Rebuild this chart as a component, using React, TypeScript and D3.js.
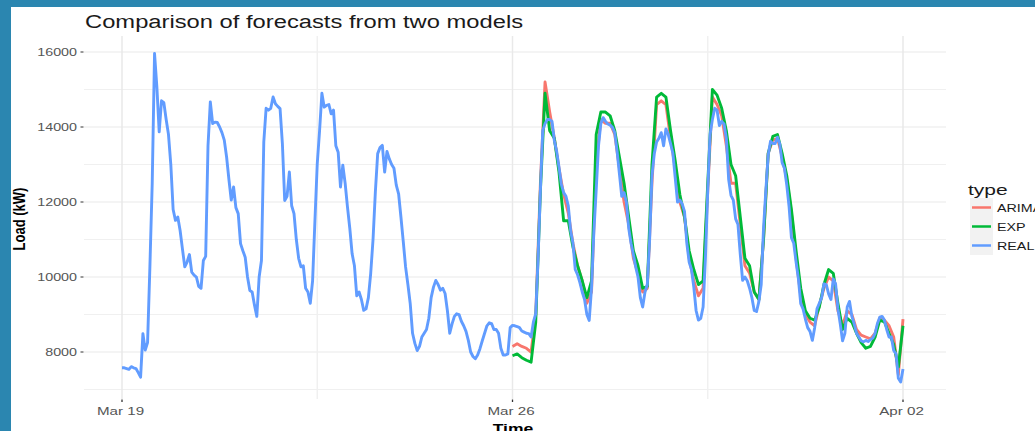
import React from "react";
import * as d3 from "d3";

// hourly load from Mar 19 00:00, forecasts every 2 hours from Mar 26 00:00
const REAL_START = Date.UTC(2018, 2, 19);
const FC_START = Date.UTC(2018, 2, 26);

const REAL = [
  7580, 7580, 7560, 7540, 7610, 7580, 7560, 7450, 7330, 8490, 8050, 8250, 10270, 12500, 15960, 15070, 13870, 14700, 14650, 14200, 13800, 13000, 11800, 11510,
  11600, 11240, 10750, 10270, 10400, 10600, 10130, 10050, 10000, 9750, 9700, 10440, 10550, 13500, 14670, 14090, 14130, 14120, 14000, 13850, 13650, 13200, 12600, 12050,
  12400, 11850, 11690, 10890, 10700, 10530, 10000, 9640, 9600, 9250, 8950, 10000, 10440, 13600, 14500, 14450, 14500, 14800, 14620, 14550, 14490, 13560, 12040, 12150,
  12800, 11900, 11690, 11000, 10500, 10270, 10300, 9700, 9600, 9300, 9900, 11500, 13020, 13900, 14900, 14530, 14580, 14600, 14350, 14450, 13500, 13330, 12400, 12980,
  12500, 11870, 11300, 10620, 10300, 9500, 9600, 9400, 9110, 9150, 9450, 10100, 11000, 12270, 13290, 13450, 13510, 12800, 13350, 13150, 13000, 12900, 12450, 12220,
  11600, 10950, 10270, 9800, 9290, 8500, 8230, 8040, 8150, 8400, 8500, 8600, 8900, 9450, 9730, 9910, 9800, 9650, 9700, 9560, 9100, 8500, 8750, 8950,
  9020, 9000, 8820, 8700, 8550, 8310, 8000, 7880, 7820, 7920, 8090, 8300, 8500, 8700, 8780, 8760, 8600, 8600, 8500, 8100, 7920, 7920, 7950, 8650,
  8710, 8700, 8680, 8650, 8560, 8530, 8500, 8490, 8400, 8800, 9020, 10500, 12300, 13900, 14090, 14200, 14200, 14150, 13640, 13350, 12930, 12480, 12250, 12150,
  11900, 11240, 10900, 10200, 10060, 9850, 9600, 9400, 9000, 8840, 9700, 11200, 12310, 13500, 14090, 14250, 14150, 14080, 14050, 13990, 13850, 13350, 12750, 12150,
  12250, 12000, 11300, 10900, 10600, 10270, 10000, 9450, 9200, 9600, 9800, 11000, 12700, 13290, 13600, 13700, 13850, 13500, 13950, 13800, 13560, 13300, 12650, 12000,
  12050, 11950, 11750, 10900, 10400, 10200, 9730, 9100, 8850, 8900, 9200, 10500, 12310, 13800, 14200, 14500, 14450, 14040, 14150, 14080, 13700, 12600, 12180, 12050,
  11550, 11400, 10600, 9910, 10000, 9900, 9700, 9450, 9110, 9080, 9350, 9800, 11300, 12310, 13250, 13620, 13560, 13560, 13730, 13550, 13050, 12900, 12450, 11870,
  11050, 10900, 10400, 9950, 9290, 9150, 8880, 8650, 8550, 8310, 8650, 9150, 9300, 9450, 9820, 9800, 9550, 9400, 9950, 9820, 9150, 8750, 8300, 8500,
  9200, 9350, 8950, 8750, 8500, 8400, 8300, 8270, 8310, 8280, 8330, 8370, 8500, 8760, 8930, 8950, 8850, 8600, 8400, 8400, 8040, 7950, 7300, 7200, 7550,
];

const ARIMA = [
  8150, 8220, 8150, 8100, 8000, 9000, 12500, 15200, 14400, 13700, 12900, 12200,
  11700, 10900, 10300, 9900, 9300, 9600, 13000, 14200, 14100, 14100, 13800, 12900,
  12000, 11400, 10500, 10100, 9600, 9700, 12500, 14600, 14700, 14600, 13700, 12900,
  12000, 11600, 10500, 9900, 9500, 9700, 12300, 14800, 14600, 14300, 13500, 12500,
  12500, 11400, 10300, 10100, 9600, 9400, 11000, 13300, 13650, 13700, 13200, 12600,
  11700, 10500, 9500, 9000, 8800, 8700, 9250, 9700, 10000, 9900, 9100, 8700,
  9100, 9000, 8600, 8450, 8400, 8350, 8500, 8900, 8850, 8700, 8400, 7400,
  8880,
];

const EXP = [
  7900, 7950, 7850, 7780, 7730, 8800, 12300, 14900, 13900, 13700, 12800, 11500,
  11500, 10800, 10300, 9900, 9450, 9900, 13800, 14400, 14400, 14300, 13900, 13200,
  12500, 11600, 10700, 10300, 9700, 9750, 13000, 14800, 14900, 14800, 13900, 13100,
  12200, 11600, 10700, 10200, 9800, 9900, 12500, 15000, 14850, 14500, 13900, 13000,
  12700, 11600, 10500, 10300, 9600, 9400, 11000, 13300, 13750, 13800, 13300, 12700,
  11800, 10700, 9700, 9100, 8900, 8850, 9200, 9800, 10200, 10100, 9300, 8600,
  8900, 8800, 8500, 8250, 8100, 8150, 8400, 8850, 8800, 8500, 8200, 7600,
  8700,
];

const SERIES = [
  { name: "ARIMA", color: "#F8766D", start: FC_START, step: 2, values: ARIMA },
  { name: "EXP", color: "#00BA38", start: FC_START, step: 2, values: EXP },
  { name: "REAL", color: "#619CFF", start: REAL_START, step: 1, values: REAL },
];

const Y_TICKS = [8000, 10000, 12000, 14000, 16000];
const Y_MINOR = [7000, 9000, 11000, 13000, 15000];
const X_TICKS = [Date.UTC(2018, 2, 19), Date.UTC(2018, 2, 26), Date.UTC(2018, 3, 2)];
const X_TICK_LABELS = ["Mar 19", "Mar 26", "Apr 02"];

const W = 1035;
const H = 431;
const panel = { left: 84, right: 946, top: 36, bottom: 399 };

// the source screenshot is stretched horizontally, so text gets an x scale
function SText({ x, y, sx = 1.3, anchor = "start", children, ...rest }: any) {
  return (
    <text transform={`translate(${x},${y}) scale(${sx},1)`} textAnchor={anchor} {...rest}>
      {children}
    </text>
  );
}

export default function App() {
  const x = d3.scaleUtc().domain([X_TICKS[0], X_TICKS[2]]).range([122, 903]);
  const y = d3.scaleLinear().domain([6747, 16427]).range([panel.bottom, panel.top]);

  const xMinor = X_TICKS.slice(1).map((t, i) => (t + X_TICKS[i]) / 2);

  const line = d3
    .line<{ t: Date; v: number }>()
    .x((d) => x(d.t))
    .y((d) => y(d.v));

  const font = "'Liberation Sans', Arial, sans-serif";

  return (
    <svg
      width={W}
      height={H}
      style={{ position: "absolute", left: 0, top: 0 }}
      fontFamily={font}
    >
      <rect x={0} y={0} width={W} height={H} fill="#2b86b0" />
      <rect x={11} y={7} width={W - 11} height={H - 7} fill="#ffffff" />

      {/* grid */}
      {Y_MINOR.map((v) => (
        <line key={"ym" + v} x1={panel.left} x2={panel.right} y1={y(v)} y2={y(v)} stroke="#f0f0f0" strokeWidth={1} />
      ))}
      {Y_TICKS.map((v) => (
        <line key={"y" + v} x1={panel.left} x2={panel.right} y1={y(v)} y2={y(v)} stroke="#e9e9e9" strokeWidth={1.1} />
      ))}
      {xMinor.map((t) => (
        <line key={"xm" + t} x1={x(t)} x2={x(t)} y1={panel.top} y2={panel.bottom} stroke="#f0f0f0" strokeWidth={1.4} />
      ))}
      {X_TICKS.map((t) => (
        <line key={"x" + t} x1={x(t)} x2={x(t)} y1={panel.top} y2={panel.bottom} stroke="#e9e9e9" strokeWidth={1.5} />
      ))}

      {/* series */}
      {SERIES.map((s) => {
        const pts = s.values.map((v, i) => ({ t: d3.utcHour.offset(new Date(s.start), i * s.step), v }));
        return (
          <path
            key={s.name}
            d={line(pts) || ""}
            fill="none"
            stroke={s.color}
            strokeWidth={2.9}
            strokeLinejoin="round"
          />
        );
      })}

      {/* y axis */}
      {Y_TICKS.map((v) => (
        <g key={"yt" + v}>
          <line x1={80.5} x2={83.5} y1={y(v)} y2={y(v)} stroke="#333" strokeWidth={1} />
          <SText x={77} y={y(v) + 4} anchor="end" fontSize={11} fill="#555" sx={1.3}>
            {v}
          </SText>
        </g>
      ))}

      {/* x axis */}
      {X_TICKS.map((t, i) => (
        <g key={"xt" + t}>
          <line x1={x(t)} x2={x(t)} y1={panel.bottom + 0.5} y2={panel.bottom + 3} stroke="#333" strokeWidth={1.3} />
          <SText x={x(t) - 1.5} y={415} anchor="middle" fontSize={11} fill="#555" sx={1.38}>
            {X_TICK_LABELS[i]}
          </SText>
        </g>
      ))}

      <SText x={513} y={433} anchor="middle" fontSize={13} fontWeight="bold" fill="#000" sx={1.35}>
        Time
      </SText>
      <text
        transform={`translate(25,219) scale(1.3,1) rotate(-90)`}
        textAnchor="middle"
        fontSize={13}
        fontWeight="bold"
        fill="#000"
      >
        Load (kW)
      </text>

      <SText x={85} y={28} fontSize={18} fill="#1a1a1a" sx={1.32}>
        Comparison of forecasts from two models
      </SText>

      {/* legend */}
      <SText x={968} y={195} fontSize={15} fill="#1a1a1a" sx={1.4}>
        type
      </SText>
      {SERIES.map((s, i) => {
        const top = 198 + i * 19;
        return (
          <g key={"lg" + s.name}>
            <rect x={970} y={top} width={23} height={19} fill="#f2f2f2" />
            <line x1={972} x2={991} y1={top + 9.5} y2={top + 9.5} stroke={s.color} strokeWidth={2.5} />
            <SText x={997} y={top + 13.5} fontSize={11} fill="#1a1a1a" sx={1.3}>
              {s.name}
            </SText>
          </g>
        );
      })}
    </svg>
  );
}
